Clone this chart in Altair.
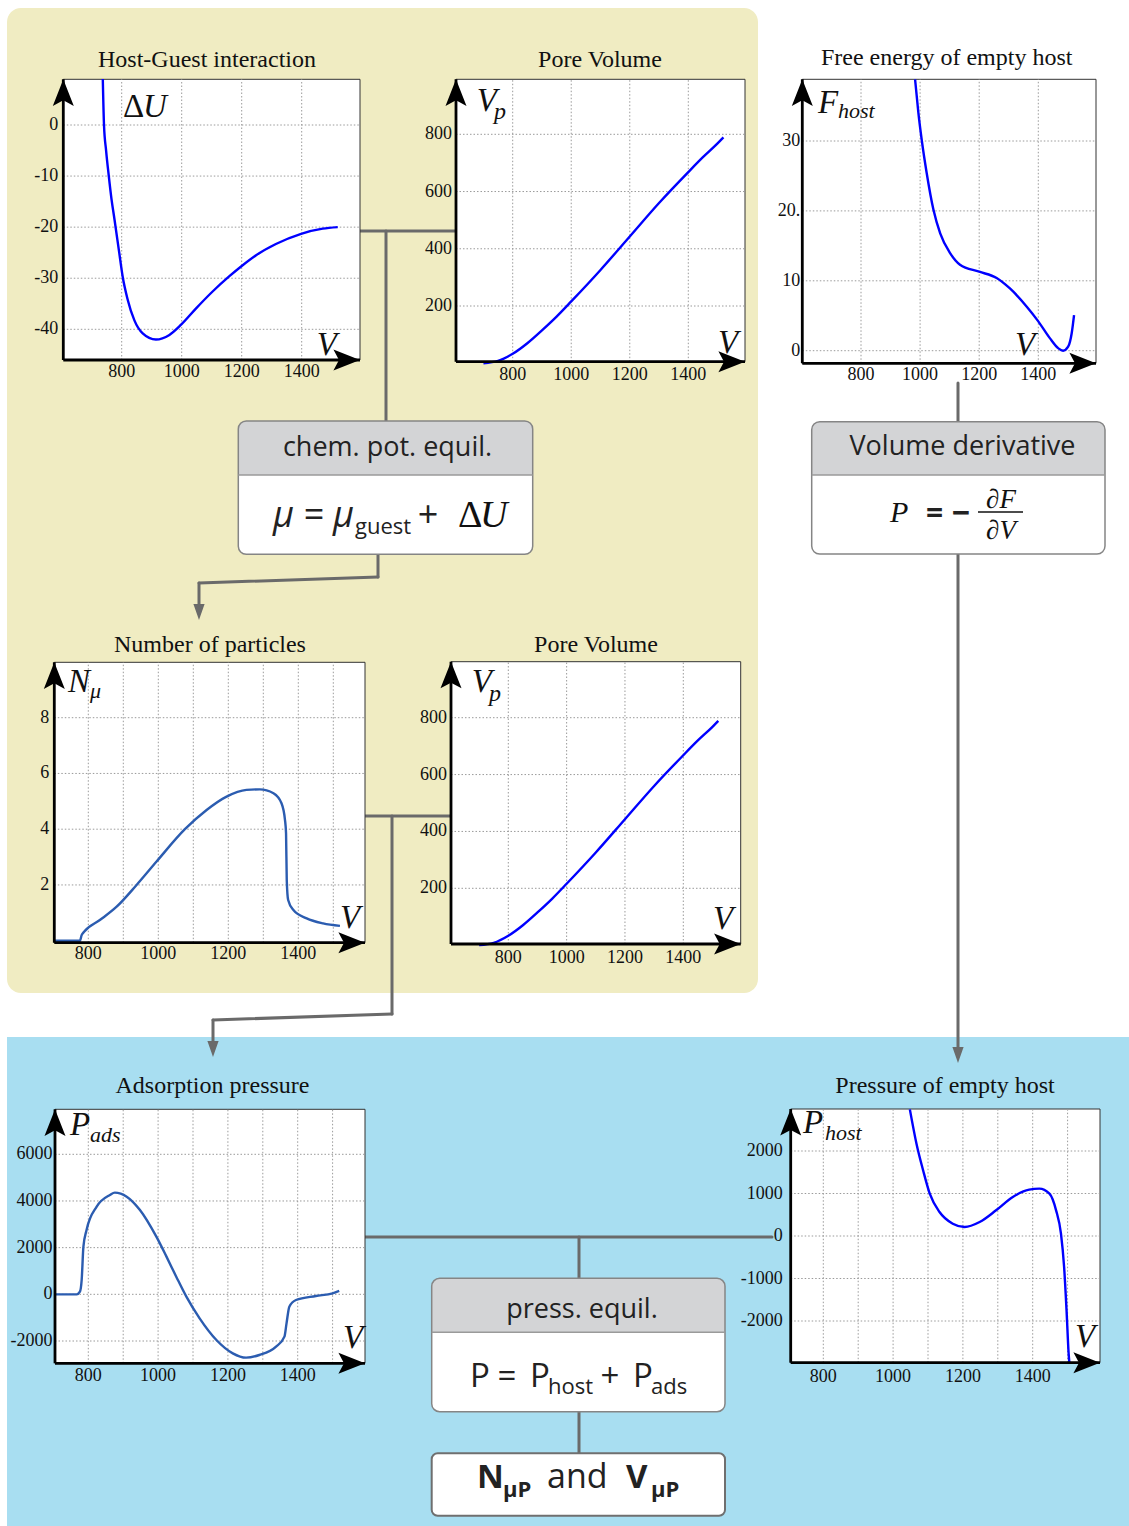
import altair as alt
import pandas as pd

W, H = 1129, 1526
SERIF = "Liberation Serif"
SANS = "Open Sans"

# ---------------- curve data ----------------
# Host-guest interaction energy dU(V)
HG_V = [737, 741, 748, 757, 766, 776, 792, 803, 820, 842, 870, 914, 959, 998,
        1048, 1103, 1159, 1198, 1248, 1314, 1398, 1470, 1520]
HG_U = [9, 0, -5, -10, -14.5, -18.5, -25.1, -29.6, -34.2, -38.2, -40.8, -42.0,
        -41.1, -39.1, -35.9, -32.6, -29.6, -27.7, -25.5, -23.3, -21.3, -20.3, -20.0]

# Pore volume Vp(V)
PV_V = [700, 750, 800, 850, 900, 950, 1000, 1100, 1200, 1300, 1400, 1450, 1500, 1520]
PV_P = [0, 8, 33, 70, 115, 163, 216, 326, 443, 560, 668, 720, 768, 789]

# Free energy of the empty host F(V)
FH_V = [983, 994, 1006, 1022, 1045, 1068, 1101, 1135, 1200, 1259, 1304, 1361,
        1400, 1439, 1468, 1484, 1501, 1513, 1521]
FH_F = [38.8, 34.1, 30.0, 25.5, 20.2, 16.8, 14.0, 12.3, 11.3, 10.4, 8.9, 6.3,
        4.2, 1.8, 0.33, 0.0, 0.57, 2.5, 5.1]

# Number of adsorbed particles N(V)
NP_V = [703, 776, 781, 788, 833, 881, 938, 995, 1076, 1138, 1195, 1252, 1290,
        1329, 1352, 1362, 1365, 1367, 1371, 1386, 1424, 1471, 1519]
NP_N = [0, 0, 0.2, 0.32, 0.74, 1.22, 2.0, 2.84, 4.0, 4.69, 5.17, 5.41, 5.43,
        5.29, 4.93, 4.33, 3.85, 2.18, 1.46, 1.10, 0.80, 0.62, 0.53]

# Adsorption pressure P_ads(V)
AP_V = [705, 767, 776, 781, 786, 795, 824, 862, 876, 910, 948, 995, 1024, 1052,
        1081, 1119, 1167, 1214, 1252, 1290, 1338, 1362, 1368, 1376, 1395, 1452,
        1500, 1519]
AP_P = [0, 0, 114, 614, 2043, 2757, 3757, 4257, 4357, 4186, 3614, 2471, 1614,
        757, -100, -1029, -1957, -2529, -2714, -2600, -2243, -1814, -1243, -529,
        -243, -71, 43, 143]

# Pressure of the empty host P_host(V)
PH_V = [1048, 1067, 1086, 1105, 1133, 1171, 1205, 1248, 1295, 1343, 1390, 1419,
        1448, 1467, 1481, 1490, 1497, 1503, 1505]
PH_P = [2980, 2172, 1545, 996, 565, 290, 212, 329, 604, 918, 1090, 1114, 996,
        604, 55, -729, -1749, -2769, -2980]

# ---------------- tick values ----------------
V_TICKS = [800, 1000, 1200, 1400]
V_GRID_FINE = [800, 900, 1000, 1100, 1200, 1300, 1400, 1500]
HG_TICKS = [0, -10, -20, -30, -40]
PV_TICKS = [200, 400, 600, 800]
FH_TICKS = [0, 10, 20, 30]
FH_LABELS = ["0", "10", "20.", "30"]
NP_TICKS = [2, 4, 6, 8]
AP_TICKS = [-2000, 0, 2000, 4000, 6000]
PH_TICKS = [-2000, -1000, 0, 1000, 2000]

# ---------------- panel layout (pixels) ----------------
# box = (left, top, right, bottom); xref/yref = two (value, pixel) anchors
FRAMES = {
    "hg":  dict(box=(63.3, 79.3, 360, 360), xref=((800, 121.7), (1400, 301.7)),
                yref=((0, 125), (-40, 329.3)), xdy=17, ydx=-5),
    "pv1": dict(box=(456, 79.3, 745, 361.7), xref=((800, 512.7), (1400, 688.3)),
                yref=((800, 134.3), (200, 306)), xdy=18, ydx=-4),
    "fh":  dict(box=(802.3, 79.3, 1096, 363.3), xref=((800, 861), (1400, 1038.3)),
                yref=((30, 141), (0, 350.7)), xdy=17, ydx=-2),
    "np":  dict(box=(54.3, 662.3, 365, 942.7), xref=((800, 88.3), (1400, 298.3)),
                yref=((8, 717.7), (0, 940.7)), xdy=16, ydx=-5),
    "pv2": dict(box=(451, 661.7, 740.7, 944), xref=((800, 508.3), (1400, 683.3)),
                yref=((800, 717.7), (200, 888.3)), xdy=19, ydx=-4),
    "ap":  dict(box=(55, 1109.3, 365, 1363.3), xref=((800, 88.3), (1400, 297.7)),
                yref=((6000, 1154.3), (-2000, 1341)), xdy=18, ydx=-2.5),
    "ph":  dict(box=(790.7, 1109, 1100, 1362.7), xref=((800, 823.3), (1400, 1032.7)),
                yref=((2000, 1151), (-2000, 1321)), xdy=19, ydx=-8),
}

BLUE = "#0000FF"
STEEL = "#2B5CB0"
LINE_GREY = "#6A6A6A"

UP = "M0,-1L0.75,0.9L0,0.5L-0.75,0.9Z"
RIGHT = "M1,0L-0.9,0.75L-0.5,0L-0.9,-0.75Z"
DOWN = "M0,1L0.7,-1L-0.7,-1Z"


def lin(ref):
    (v1, p1), (v2, p2) = ref
    k = (p2 - p1) / (v2 - v1)
    return lambda p: v1 + (p - p1) / k


def geom(key):
    f = FRAMES[key]
    L, T, R, B = f["box"]
    vx, vy = lin(f["xref"]), lin(f["yref"])
    return dict(xdom=[vx(0), vx(W)], ydom=[vy(H), vy(0)],
                x0=vx(L), x1=vx(R), y0=vy(B), y1=vy(T), xdy=f["xdy"], ydx=f["ydx"])


def sx(field, dom, rev=False):
    return alt.X(field, type="quantitative",
                 scale=alt.Scale(domain=dom, nice=False, zero=False, reverse=rev), axis=None)


def sy(field, dom, rev=False):
    return alt.Y(field, type="quantitative",
                 scale=alt.Scale(domain=dom, nice=False, zero=False, reverse=rev), axis=None)


def panel(key, xs, ys, color, yticks, ylabels, vgrid, hgrid):
    g = geom(key)
    X = lambda f: sx(f, g["xdom"])
    Y = lambda f: sy(f, g["ydom"])
    out = []
    frame = pd.DataFrame({"a": [g["x0"]], "b": [g["x1"]], "c": [g["y0"]], "d": [g["y1"]]})
    out.append(alt.Chart(frame).mark_rect(fill="white", stroke="#333333", strokeWidth=1)
               .encode(x=X("a"), x2="b", y=Y("c"), y2="d"))
    vg = pd.DataFrame({"v": vgrid, "lo": g["y0"], "hi": g["y1"]})
    out.append(alt.Chart(vg).mark_rule(color="#9a9a9a", strokeWidth=1, strokeDash=[1.5, 2])
               .encode(x=X("v"), y=Y("lo"), y2="hi"))
    hg = pd.DataFrame({"v": hgrid, "lo": g["x0"], "hi": g["x1"]})
    out.append(alt.Chart(hg).mark_rule(color="#9a9a9a", strokeWidth=1, strokeDash=[1.5, 2])
               .encode(y=Y("v"), x=X("lo"), x2="hi"))
    cd = pd.DataFrame({"v": xs, "w": ys, "i": list(range(len(xs)))})
    out.append(alt.Chart(cd).mark_line(color=color, strokeWidth=2.4, interpolate="monotone")
               .encode(x=X("v"), y=Y("w"), order="i:Q"))
    ax = pd.DataFrame({"a": [g["x0"], g["x0"]], "b": [g["x0"], g["x1"]],
                       "c": [g["y0"], g["y0"]], "d": [g["y1"], g["y0"]]})
    out.append(alt.Chart(ax).mark_rule(color="black", strokeWidth=2.8)
               .encode(x=X("a"), x2="b", y=Y("c"), y2="d"))
    up = pd.DataFrame({"a": [g["x0"]], "c": [g["y1"]]})
    out.append(alt.Chart(up).mark_point(shape=UP, size=784, filled=True, color="black",
                                        opacity=1, yOffset=14)
               .encode(x=X("a"), y=Y("c")))
    rt = pd.DataFrame({"a": [g["x1"]], "c": [g["y0"]]})
    out.append(alt.Chart(rt).mark_point(shape=RIGHT, size=784, filled=True, color="black",
                                        opacity=1, xOffset=-14)
               .encode(x=X("a"), y=Y("c")))
    xl = pd.DataFrame({"v": V_TICKS, "t": [str(v) for v in V_TICKS], "c": g["y0"]})
    out.append(alt.Chart(xl).mark_text(font=SERIF, fontSize=18, align="center",
                                       baseline="alphabetic", yOffset=g["xdy"], color="#111")
               .encode(x=X("v"), y=Y("c"), text="t:N"))
    yl = pd.DataFrame({"v": yticks, "t": ylabels, "a": g["x0"]})
    out.append(alt.Chart(yl).mark_text(font=SERIF, fontSize=18, align="right",
                                       baseline="middle", xOffset=g["ydx"], color="#111")
               .encode(x=X("a"), y=Y("v"), text="t:N"))
    return out


# ---------------- canvas helpers (pixel coordinates) ----------------
CX = lambda f: sx(f, [0, W])
CY = lambda f: sy(f, [0, H], rev=True)


def canvas_rects(rows, **mark):
    df = pd.DataFrame(rows, columns=["a", "c", "b", "d"])
    return alt.Chart(df).mark_rect(**mark).encode(x=CX("a"), x2="b", y=CY("c"), y2="d")


def canvas_text(rows, font, style="normal", weight="normal", align="left", color="#111"):
    df = pd.DataFrame(rows, columns=["t", "a", "c", "fs"])
    return alt.Chart(df).mark_text(font=font, fontStyle=style, fontWeight=weight,
                                   align=align, baseline="alphabetic", color=color).encode(
        x=CX("a"), y=CY("c"), text="t:N", size=alt.Size("fs:Q", scale=None))


layers = []

# background regions
layers.append(canvas_rects([(7, 8, 758, 993)], fill="#F0ECC2", cornerRadius=14))
layers.append(canvas_rects([(7, 1037, 1129, 1526)], fill="#A8DEF1"))

# connectors
SEGMENTS = [
    (360, 231, 456, 231), (386, 231, 386, 421),
    (378, 554, 378, 577), (378, 577, 199, 583), (199, 583, 199, 608),
    (365, 816, 451, 816), (392, 816, 392, 1014), (392, 1014, 213, 1020),
    (213, 1020, 213, 1045),
    (958, 383, 958, 421), (958, 554, 958, 1050),
    (365, 1237, 772, 1237), (579, 1237, 579, 1278), (579, 1412, 579, 1453),
]
seg = pd.DataFrame(SEGMENTS, columns=["a", "c", "b", "d"])
layers.append(alt.Chart(seg).mark_rule(color=LINE_GREY, strokeWidth=3, strokeCap="round")
              .encode(x=CX("a"), x2="b", y=CY("c"), y2="d"))
tips = pd.DataFrame([(199, 620), (213, 1057), (958, 1063)], columns=["a", "c"])
layers.append(alt.Chart(tips).mark_point(shape=DOWN, size=256, filled=True, color=LINE_GREY,
                                         opacity=1, yOffset=-8)
              .encode(x=CX("a"), y=CY("c")))

# plot panels
layers += panel("hg", HG_V, HG_U, BLUE, HG_TICKS, [str(v) for v in HG_TICKS], V_TICKS, HG_TICKS)
layers += panel("pv1", PV_V, PV_P, BLUE, PV_TICKS, [str(v) for v in PV_TICKS], V_TICKS, PV_TICKS)
layers += panel("fh", FH_V, FH_F, BLUE, FH_TICKS, FH_LABELS, V_TICKS, FH_TICKS)
layers += panel("np", NP_V, NP_N, STEEL, NP_TICKS, [str(v) for v in NP_TICKS], V_GRID_FINE, NP_TICKS)
layers += panel("pv2", PV_V, PV_P, BLUE, PV_TICKS, [str(v) for v in PV_TICKS], V_TICKS, PV_TICKS)
layers += panel("ap", AP_V, AP_P, STEEL, AP_TICKS, [str(v) for v in AP_TICKS], V_GRID_FINE, AP_TICKS)
layers += panel("ph", PH_V, PH_P, BLUE, PH_TICKS, [str(v) for v in PH_TICKS], V_GRID_FINE, PH_TICKS)

# formula boxes: (left, top, right, bottom, header bottom)
BOXES = [(238.3, 421, 532.7, 554.3, 475), (811.7, 421.7, 1105, 554, 475),
         (431.7, 1278.3, 725, 1411.7, 1332.3)]
layers.append(canvas_rects([b[:4] for b in BOXES], fill="white", cornerRadius=8))
layers.append(canvas_rects([(b[0], b[1], b[2], b[4]) for b in BOXES], fill="#D3D4D6",
                           cornerRadiusTopLeft=8, cornerRadiusTopRight=8))
layers.append(canvas_rects([b[:4] for b in BOXES], fill=None, fillOpacity=0, stroke="#858585",
                           strokeWidth=1.5, cornerRadius=8))
div = pd.DataFrame([(b[0], b[4], b[2]) for b in BOXES], columns=["a", "c", "b"])
layers.append(alt.Chart(div).mark_rule(color="#9a9a9a", strokeWidth=1.5)
              .encode(x=CX("a"), x2="b", y=CY("c")))
layers.append(canvas_rects([(431.7, 1453.3, 725, 1515.7)], fill="white", stroke="#6f6f6f",
                           strokeWidth=2, cornerRadius=6))
frac = pd.DataFrame([(978, 512, 1023)], columns=["a", "c", "b"])
layers.append(alt.Chart(frac).mark_rule(color="#111", strokeWidth=1.4)
              .encode(x=CX("a"), x2="b", y=CY("c")))

# panel titles
layers.append(canvas_text([
    ("Host-Guest interaction", 207, 67, 24), ("Pore Volume", 600, 67, 24),
    ("Free energy of empty host", 946.7, 65, 24), ("Number of particles", 210, 651.5, 24),
    ("Pore Volume", 596, 651.5, 24), ("Adsorption pressure", 212.5, 1093.3, 24),
    ("Pressure of empty host", 945, 1093.3, 24),
], SERIF, align="center"))

# axis names
layers.append(canvas_text([
    ("U", 143, 116.7, 33), ("V", 316.7, 355, 33),
    ("V", 476.7, 110.7, 33), ("p", 494, 118.5, 24), ("V", 718, 353.3, 33),
    ("F", 818, 113.3, 33), ("host", 838, 118.3, 22), ("V", 1015, 355, 33),
    ("N", 68, 691.7, 33), ("μ", 90, 698, 22), ("V", 340, 928.3, 33),
    ("V", 471.7, 691.7, 33), ("p", 489, 700.5, 24), ("V", 713, 929.3, 33),
    ("P", 70, 1135, 33), ("ads", 90, 1141.7, 22), ("V", 343, 1348.3, 33),
    ("P", 803, 1133, 33), ("host", 825, 1140, 22), ("V", 1075, 1346.7, 33),
    ("P", 890, 521.7, 30), ("U", 480, 527, 38),
], SERIF, style="italic"))
layers.append(canvas_text([("Δ", 123, 116.7, 33), ("Δ", 458, 527, 38)], SERIF))
layers.append(canvas_text([("∂F", 1001, 508, 27), ("∂V", 1001, 538.5, 27)], SERIF,
                          style="italic", align="center"))

# box headers and formulas
layers.append(canvas_text([
    ("chem. pot. equil.", 387.5, 456, 27), ("Volume derivative", 962.5, 455, 27),
    ("press. equil.", 582, 1318, 27),
], SANS, align="center", color="#222"))
layers.append(canvas_text([
    ("=", 314, 527, 36), ("+", 428, 527, 36),
    ("=", 507, 1386.7, 33), ("+", 610, 1386.7, 33),
], SANS, align="center", color="#222"))
layers.append(canvas_text([("=", 934.5, 523, 30), ("−", 961, 524, 32)], SANS,
                          weight="bold", align="center", color="#222"))
layers.append(canvas_text([("μ", 273, 527, 36), ("μ", 333, 527, 36)], SANS, style="italic",
                          color="#222"))
layers.append(canvas_text([
    ("guest", 355, 533.5, 22), ("P", 470, 1386.7, 33), ("P", 530, 1386.7, 33),
    ("host", 548, 1394, 22), ("P", 633, 1386.7, 33), ("ads", 651, 1394, 22),
    ("and", 547, 1488.3, 34),
], SANS, color="#222"))
layers.append(canvas_text([
    ("N", 477, 1488.3, 33), ("μP", 503, 1496.7, 22), ("V", 626, 1488.3, 33),
    ("μP", 651, 1496.7, 22),
], SANS, weight="bold", color="#222"))

chart = (
    alt.layer(*layers)
    .resolve_scale(x="independent", y="independent")
    .properties(width=W, height=H, padding=0, background="white",
                autosize=alt.AutoSizeParams(type="none"))
    .configure_view(stroke=None)
)

chart.save("out.html", embed_options={"renderer": "svg", "actions": False})
